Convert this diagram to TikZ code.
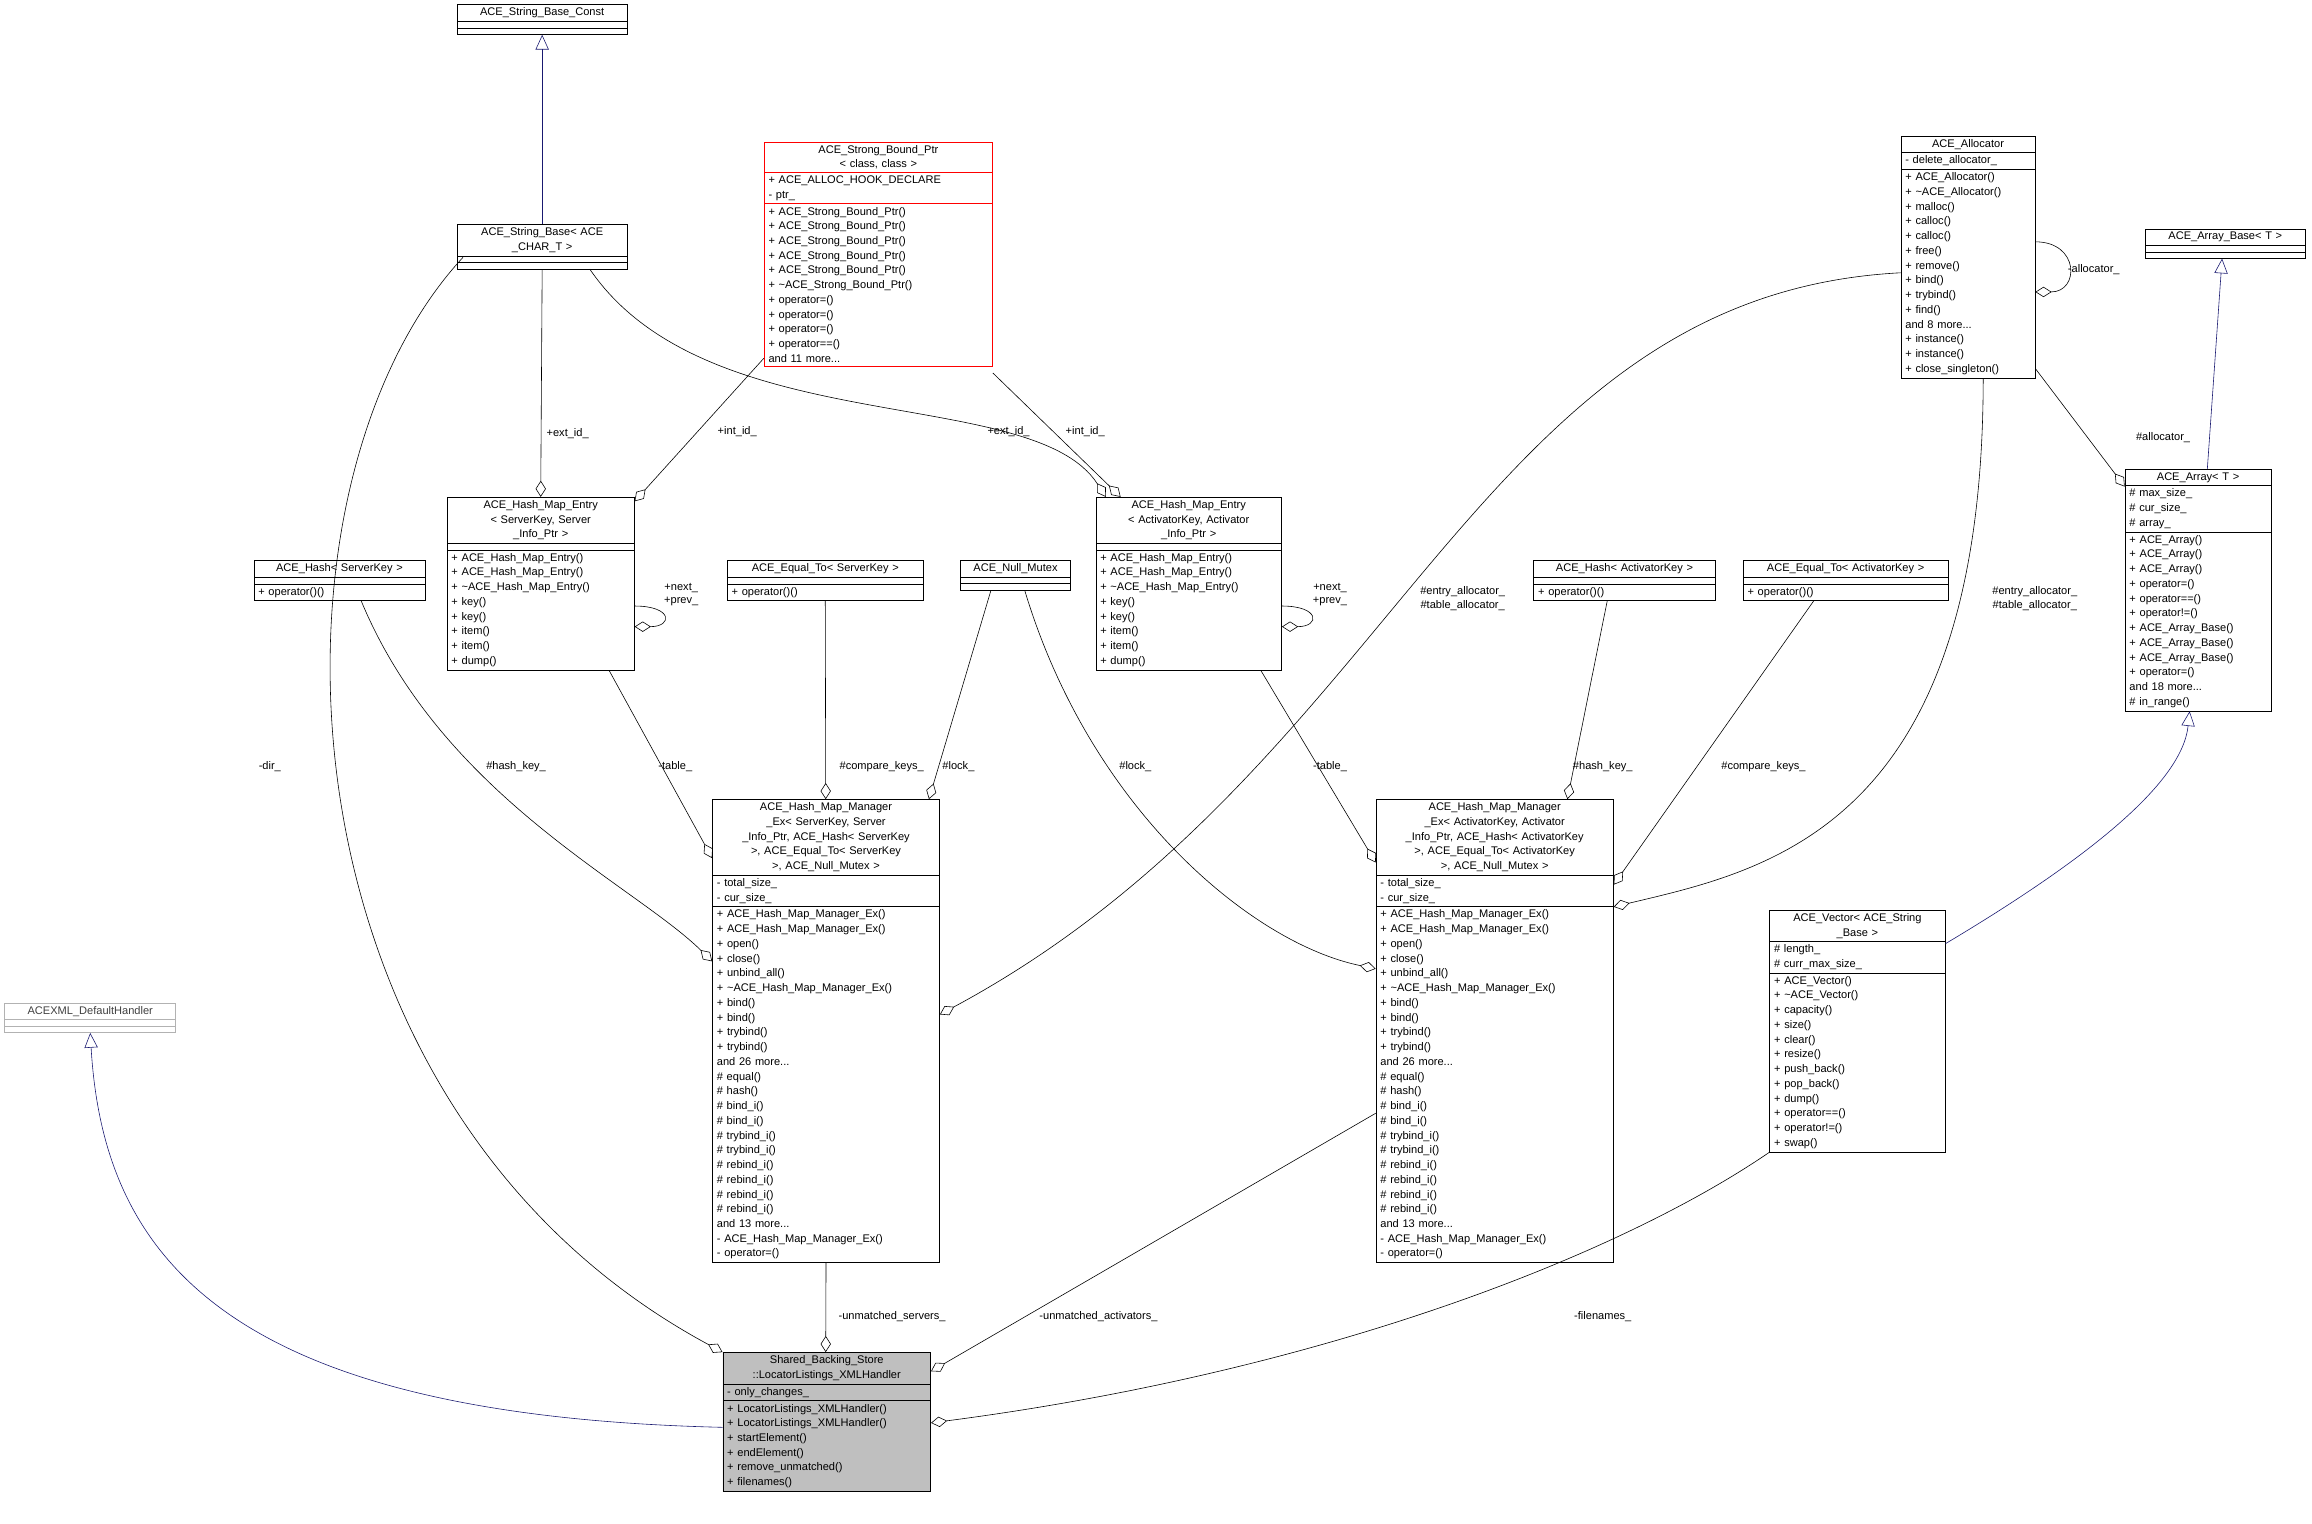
\documentclass[tikz,border=0pt]{standalone}
\usepackage{fontspec}
\setmainfont{Liberation Sans}
\usetikzlibrary{shapes.multipart, arrows.meta, calc}
\AtBeginDocument{\catcode`\_=12 }
\tikzset{
x=1pt, y=-1pt, % picture units follow the drawing grid, y going down
umlclass/.style={rectangle split, rectangle split parts=3, draw, anchor=north west,
  align=left, inner xsep=3pt, inner ysep=2pt, rectangle split empty part height=7pt,
  font=\fontsize{7.5}{10}\selectfont}, % a class box with name, members, methods
agg/.style={-{Diamond[open,length=11pt,width=7pt]}}, % aggregation, diamond at the owner
inherit/.style={draw={rgb,255:red,25;green,25;blue,112}, -{Triangle[open,length=10pt,width=9pt]}},
lbl/.style={font=\fontsize{7.5}{9}\selectfont, align=center, inner sep=1pt},
}

\begin{document}
\begin{tikzpicture}
    \useasboundingbox (0,0) rectangle (1568,1033);

    % base classes at the top
    \node[umlclass, text width=109pt] (strconst) at (310,3) {\centering ACE_String_Base_Const\par\nodepart{two}\nodepart{three}};
    \node[umlclass, text width=109pt] (strbase) at (310,152) {\centering ACE_String_Base< ACE\\_CHAR_T >\par\nodepart{two}\nodepart{three}};
    \node[umlclass, text width=149pt, draw=red] (strong) at (518,96) {\centering ACE_Strong_Bound_Ptr\\< class, class >\par
      \nodepart{two}+ ACE_ALLOC_HOOK_DECLARE\\- ptr_
      \nodepart{three}+ ACE_Strong_Bound_Ptr()\\+ ACE_Strong_Bound_Ptr()\\+ ACE_Strong_Bound_Ptr()\\+ ACE_Strong_Bound_Ptr()\\+ ACE_Strong_Bound_Ptr()\\+ \textasciitilde ACE_Strong_Bound_Ptr()\\+ operator=()\\+ operator=()\\+ operator=()\\+ operator==()\\and 11 more...};
    \node[umlclass, text width=85pt] (alloc) at (1289,92) {\centering ACE_Allocator\par
      \nodepart{two}- delete_allocator_
      \nodepart{three}+ ACE_Allocator()\\+ \textasciitilde ACE_Allocator()\\+ malloc()\\+ calloc()\\+ calloc()\\+ free()\\+ remove()\\+ bind()\\+ trybind()\\+ find()\\and 8 more...\\+ instance()\\+ instance()\\+ close_singleton()};
    \node[umlclass, text width=102pt] (arrbase) at (1455,155) {\centering ACE_Array_Base< T >\par\nodepart{two}\nodepart{three}};
    \node[umlclass, text width=93pt] (array) at (1441,318) {\centering ACE_Array< T >\par
      \nodepart{two}\# max_size_\\\# cur_size_\\\# array_
      \nodepart{three}+ ACE_Array()\\+ ACE_Array()\\+ ACE_Array()\\+ operator=()\\+ operator==()\\+ operator!=()\\+ ACE_Array_Base()\\+ ACE_Array_Base()\\+ ACE_Array_Base()\\+ operator=()\\and 18 more...\\\# in_range()};

    % hash map entries
    \node[umlclass, text width=121pt] (entryS) at (303,337) {\centering ACE_Hash_Map_Entry\\< ServerKey, Server\\_Info_Ptr >\par
      \nodepart{two}
      \nodepart{three}+ ACE_Hash_Map_Entry()\\+ ACE_Hash_Map_Entry()\\+ \textasciitilde ACE_Hash_Map_Entry()\\+ key()\\+ key()\\+ item()\\+ item()\\+ dump()};
    \node[umlclass, text width=120pt] (entryA) at (743,337) {\centering ACE_Hash_Map_Entry\\< ActivatorKey, Activator\\_Info_Ptr >\par
      \nodepart{two}
      \nodepart{three}+ ACE_Hash_Map_Entry()\\+ ACE_Hash_Map_Entry()\\+ \textasciitilde ACE_Hash_Map_Entry()\\+ key()\\+ key()\\+ item()\\+ item()\\+ dump()};

    % helper classes
    \node[umlclass, text width=110pt] (hashS) at (172,380) {\centering ACE_Hash< ServerKey >\par\nodepart{two}\nodepart{three}+ operator()()};
    \node[umlclass, text width=127pt] (eqS) at (493,380) {\centering ACE_Equal_To< ServerKey >\par\nodepart{two}\nodepart{three}+ operator()()};
    \node[umlclass, text width=69pt] (mutex) at (651,380) {\centering ACE_Null_Mutex\par\nodepart{two}\nodepart{three}};
    \node[umlclass, text width=117pt] (hashA) at (1040,380) {\centering ACE_Hash< ActivatorKey >\par\nodepart{two}\nodepart{three}+ operator()()};
    \node[umlclass, text width=133pt] (eqA) at (1182,380) {\centering ACE_Equal_To< ActivatorKey >\par\nodepart{two}\nodepart{three}+ operator()()};

    % the two managers
    \node[umlclass, text width=148pt] (manS) at (483,542) {\centering ACE_Hash_Map_Manager\\_Ex< ServerKey, Server\\_Info_Ptr, ACE_Hash< ServerKey\\ >, ACE_Equal_To< ServerKey\\ >, ACE_Null_Mutex >\par
      \nodepart{two}- total_size_\\- cur_size_
      \nodepart{three}+ ACE_Hash_Map_Manager_Ex()\\+ ACE_Hash_Map_Manager_Ex()\\+ open()\\+ close()\\+ unbind_all()\\+ \textasciitilde ACE_Hash_Map_Manager_Ex()\\+ bind()\\+ bind()\\+ trybind()\\+ trybind()\\and 26 more...\\\# equal()\\\# hash()\\\# bind_i()\\\# bind_i()\\\# trybind_i()\\\# trybind_i()\\\# rebind_i()\\\# rebind_i()\\\# rebind_i()\\\# rebind_i()\\and 13 more...\\- ACE_Hash_Map_Manager_Ex()\\- operator=()};
    \node[umlclass, text width=155pt] (manA) at (933,542) {\centering ACE_Hash_Map_Manager\\_Ex< ActivatorKey, Activator\\_Info_Ptr, ACE_Hash< ActivatorKey\\ >, ACE_Equal_To< ActivatorKey\\ >, ACE_Null_Mutex >\par
      \nodepart{two}- total_size_\\- cur_size_
      \nodepart{three}+ ACE_Hash_Map_Manager_Ex()\\+ ACE_Hash_Map_Manager_Ex()\\+ open()\\+ close()\\+ unbind_all()\\+ \textasciitilde ACE_Hash_Map_Manager_Ex()\\+ bind()\\+ bind()\\+ trybind()\\+ trybind()\\and 26 more...\\\# equal()\\\# hash()\\\# bind_i()\\\# bind_i()\\\# trybind_i()\\\# trybind_i()\\\# rebind_i()\\\# rebind_i()\\\# rebind_i()\\\# rebind_i()\\and 13 more...\\- ACE_Hash_Map_Manager_Ex()\\- operator=()};

    \node[umlclass, text width=113pt] (vector) at (1200,617) {\centering ACE_Vector< ACE_String\\_Base >\par
      \nodepart{two}\# length_\\\# curr_max_size_
      \nodepart{three}+ ACE_Vector()\\+ \textasciitilde ACE_Vector()\\+ capacity()\\+ size()\\+ clear()\\+ resize()\\+ push_back()\\+ pop_back()\\+ dump()\\+ operator==()\\+ operator!=()\\+ swap()};
    \node[umlclass, text width=110pt, draw=gray!60, text=black!75] (defh) at (3,680) {\centering ACEXML_DefaultHandler\par\nodepart{two}\nodepart{three}};
    \node[umlclass, text width=135pt, fill=gray!50] (handler) at (490,917) {\centering Shared_Backing_Store\\::LocatorListings_XMLHandler\par
      \nodepart{two}- only_changes_
      \nodepart{three}+ LocatorListings_XMLHandler()\\+ LocatorListings_XMLHandler()\\+ startElement()\\+ endElement()\\+ remove_unmatched()\\+ filenames()};

    % inheritance
    \draw[inherit] (strbase) -- (strconst);
    \draw[inherit] ($(array.north west)+(56,0)$) -- ($(arrbase.south west)+(52,0)$);
    \draw[inherit] ($(vector.north east)+(0,23)$) .. controls (1420,580) and (1480,530) .. ($(array.south west)+(44,0)$);
    \draw[inherit] ($(handler.north west)+(0,51)$) .. controls (150,960) and (70,850) .. (defh.south);

    % aggregations
    \draw[agg] ($(strbase.south west)+(4,-8)$) .. controls (170,330) and (180,750) .. (handler.north west);
    \draw[agg] (strbase.south) -- (entryS.north);
    \draw[agg] ($(strbase.south west)+(90,0)$) .. controls (480,300) and (700,260) .. ($(entryA.north west)+(7,0)$);
    \draw[agg] ($(strong.north west)+(0,147)$) -- ($(entryS.north east)+(0,3)$);
    \draw[agg] ($(strong.north east)+(0,157)$) -- ($(entryA.north west)+(17,0)$);
    \draw[agg] ($(entryS.north east)+(0,74)$) .. controls +(26,0) and +(26,0) .. ($(entryS.north east)+(0,88)$);
    \draw[agg] ($(entryA.north east)+(0,74)$) .. controls +(26,0) and +(26,0) .. ($(entryA.north east)+(0,88)$);
    \draw[agg] ($(alloc.north east)+(0,72)$) .. controls +(30,0) and +(30,0) .. ($(alloc.north east)+(0,106)$);
    \draw[agg] ($(alloc.north east)+(0,158)$) -- ($(array.north west)+(0,12)$);
    \draw[agg] ($(alloc.north west)+(0,93)$) .. controls (1000,200) and (950,520) .. ($(manS.north east)+(0,146)$);
    \draw[agg] ($(alloc.south west)+(56,0)$) .. controls (1345,560) and (1200,590) .. ($(manA.north east)+(0,73)$);
    \draw[agg] ($(hashS.south west)+(73,0)$) .. controls (300,540) and (430,600) .. ($(manS.north west)+(0,110)$);
    \draw[agg] ($(entryS.south west)+(110,0)$) -- ($(manS.north west)+(0,40)$);
    \draw[agg] (eqS.south) -- ($(manS.north west)+(77,0)$);
    \draw[agg] ($(mutex.south west)+(21,0)$) -- ($(manS.north west)+(147,0)$);
    \draw[agg] ($(mutex.south west)+(44,0)$) .. controls (740,550) and (850,640) .. ($(manA.north west)+(0,115)$);
    \draw[agg] ($(entryA.south west)+(112,0)$) -- ($(manA.north west)+(0,43)$);
    \draw[agg] ($(hashA.south west)+(50,0)$) -- ($(manA.north west)+(130,0)$);
    \draw[agg] ($(eqA.south west)+(48,0)$) -- ($(manA.north east)+(0,58)$);
    \draw[agg] (manS.south) -- ($(handler.north west)+(70,0)$);
    \draw[agg] ($(manA.north west)+(0,213)$) -- ($(handler.north east)+(0,13)$);
    \draw[agg] (vector.south west) .. controls (1100,850) and (900,930) .. ($(handler.north east)+(0,48)$);

    % connector labels
    \node[lbl] (ldir) at (183,520) {-dir_};
    \node[lbl] (lextS) at (385,294) {+ext_id_};
    \node[lbl] (lintS) at (500,293) {+int_id_};
    \node[lbl] (lextA) at (684,293) {+ext_id_};
    \node[lbl] (lintA) at (736,293) {+int_id_};
    \node[lbl] (lnextS) at (462,403) {+next_\\+prev_};
    \node[lbl] (lnextA) at (902,403) {+next_\\+prev_};
    \node[lbl] (lalloc) at (1420,183) {-allocator_};
    \node[lbl] (lallocarr) at (1467,297) {\#allocator_};
    \node[lbl] (lentS) at (992,406) {\#entry_allocator_\\\#table_allocator_};
    \node[lbl] (lentA) at (1380,406) {\#entry_allocator_\\\#table_allocator_};
    \node[lbl] (lhashS) at (350,520) {\#hash_key_};
    \node[lbl] (ltabS) at (458,520) {-table_};
    \node[lbl] (lcmpS) at (598,520) {\#compare_keys_};
    \node[lbl] (llockS) at (650,520) {\#lock_};
    \node[lbl] (llockA) at (770,520) {\#lock_};
    \node[lbl] (ltabA) at (902,520) {-table_};
    \node[lbl] (lhashA) at (1087,520) {\#hash_key_};
    \node[lbl] (lcmpA) at (1196,520) {\#compare_keys_};
    \node[lbl] (lsrv) at (605,893) {-unmatched_servers_};
    \node[lbl] (lact) at (745,893) {-unmatched_activators_};
    \node[lbl] (lfile) at (1087,893) {-filenames_};
\end{tikzpicture}
\end{document}
